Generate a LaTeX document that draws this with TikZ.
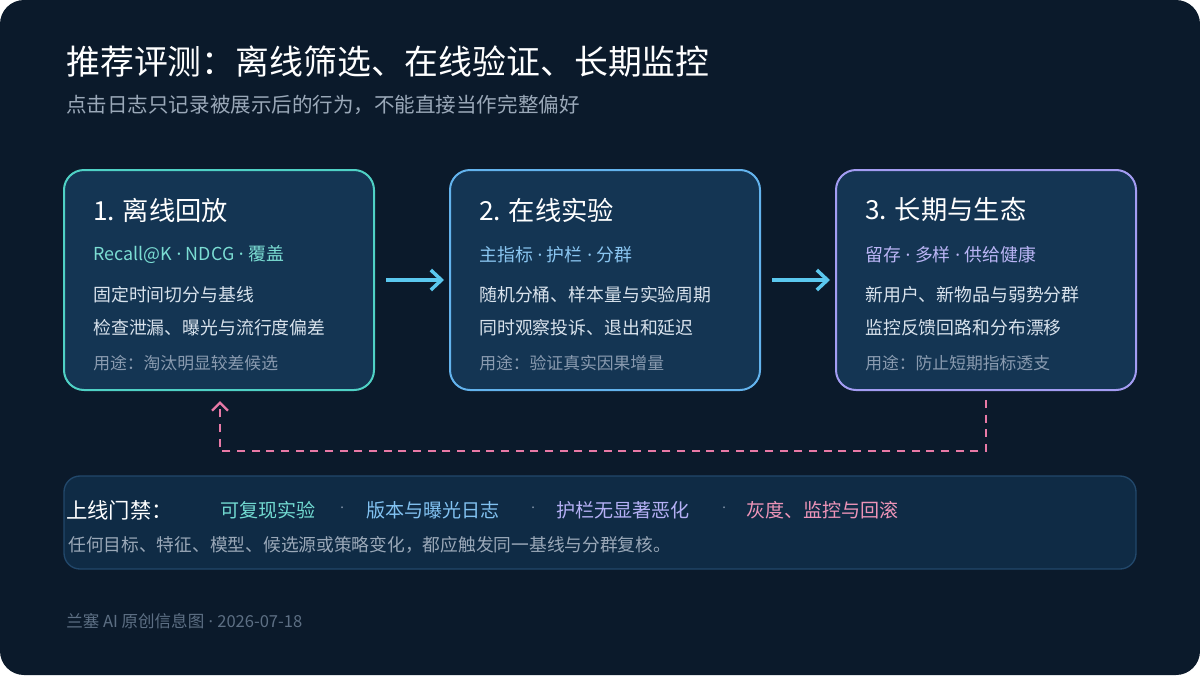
\documentclass[tikz,border=0pt]{standalone}
\usepackage{fontspec}
\setmainfont{Noto Sans CJK SC}
\newfontfamily\latinfont{Noto Sans}
\newcommand{\sep}{{\latinfont\ ·\ }}
\usetikzlibrary{arrows.meta}
\definecolor{bgdark}{HTML}{0B1A2B}
\definecolor{boxfill}{HTML}{143553}
\definecolor{gatefill}{HTML}{0F2B45}
\definecolor{gateline}{HTML}{22486B}
\definecolor{teal}{HTML}{4FD1C5}
\definecolor{sky}{HTML}{63B3ED}
\definecolor{violet}{HTML}{A39CF2}
\definecolor{pink}{HTML}{E879A6}
\definecolor{arrowblue}{HTML}{5BC8EF}
\definecolor{bodytext}{HTML}{D8E2EC}
\definecolor{usetext}{HTML}{8A9BB0}
\definecolor{subtext}{HTML}{9AA8B8}
\definecolor{foot}{HTML}{5D6F84}
\begin{document}
\begin{tikzpicture}[x=0.75pt, y=-0.75pt,
  txt/.style={anchor=west, inner sep=0pt},
  stage/.style={line width=1.5pt, fill=boxfill, rounded corners=15pt},
  head/.style={txt, text=white, font=\fontsize{19.7}{23}\selectfont},
  metric/.style={txt, font=\fontsize{13.4}{16}\selectfont},
  body/.style={txt, text=bodytext, font=\fontsize{13.4}{16}\selectfont},
  usage/.style={txt, text=usetext, font=\fontsize{12.6}{15}\selectfont},
  flow/.style={-{Straight Barb[length=8pt,width=15pt]}, arrowblue, line width=2.6pt}]
\fill[white] (0,0) rectangle (1200,675);
\fill[bgdark, rounded corners=18pt] (0,0) rectangle (1200,675);

% title
\node[txt, text=white, font=\fontsize{25.4}{30}\selectfont] (title) at (66,62) {推荐评测：离线筛选、在线验证、长期监控};
\node[txt, text=subtext, font=\fontsize{15.4}{18}\selectfont] (subtitle) at (66,105) {点击日志只记录被展示后的行为，不能直接当作完整偏好};

% stages
\draw[stage, draw=teal] (64,170) rectangle (374,390);
\node[head] (h1) at (93,210) {1. 离线回放};
\node[metric, text=teal!75!white] (m1) at (93,255) {Recall@K\sep NDCG\sep 覆盖};
\node[body] (b1a) at (93,295) {固定时间切分与基线};
\node[body] (b1b) at (93,328) {检查泄漏、曝光与流行度偏差};
\node[usage] (u1) at (93,363) {用途：淘汰明显较差候选};

\draw[stage, draw=sky] (450,170) rectangle (760,390);
\node[head] (h2) at (479,210) {2. 在线实验};
\node[metric, text=sky!75!white] (m2) at (479,255) {主指标\sep 护栏\sep 分群};
\node[body] (b2a) at (479,295) {随机分桶、样本量与实验周期};
\node[body] (b2b) at (479,328) {同时观察投诉、退出和延迟};
\node[usage] (u2) at (479,363) {用途：验证真实因果增量};

\draw[stage, draw=violet] (836,170) rectangle (1136,390);
\node[head] (h3) at (865,210) {3. 长期与生态};
\node[metric, text=violet!75!white] (m3) at (865,255) {留存\sep 多样\sep 供给健康};
\node[body] (b3a) at (865,295) {新用户、新物品与弱势分群};
\node[body] (b3b) at (865,328) {监控反馈回路和分布漂移};
\node[usage] (u3) at (865,363) {用途：防止短期指标透支};

\coordinate (s1e) at (386,280);
\coordinate (s2w) at (444,280);
\coordinate (s2e) at (772,280);
\coordinate (s3w) at (830,280);
\draw[flow] (s1e) -- (s2w);
\draw[flow] (s2e) -- (s3w);

% feedback loop
\coordinate (fbstart) at (986,400);
\coordinate (fbend) at (220,401);
\draw[pink, line width=1.8pt, dash pattern=on 6pt off 5pt, -{Straight Barb[length=6pt,width=12pt]}]
  (fbstart) -- (986,451) -- (220,451) -- (fbend);

% gate
\draw[fill=gatefill, draw=gateline, line width=1pt, rounded corners=12pt] (64,476) rectangle (1136,569);
\node[txt, text=white, font=\fontsize{16}{19}\selectfont] (gate) at (66,510) {上线门禁：};
\node[metric, text=teal!80!white, font=\fontsize{14.3}{17}\selectfont] (g1) at (220,510) {可复现实验};
\node[metric, text=usetext, font=\latinfont] at (340,510) {·};
\node[metric, text=sky!80!white, font=\fontsize{14.3}{17}\selectfont] (g2) at (366,510) {版本与曝光日志};
\node[metric, text=usetext, font=\latinfont] at (531,510) {·};
\node[metric, text=violet!80!white, font=\fontsize{14.3}{17}\selectfont] (g3) at (556,510) {护栏无显著恶化};
\node[metric, text=usetext, font=\latinfont] at (722,510) {·};
\node[metric, text=pink!80!white, font=\fontsize{14.3}{17}\selectfont] (g4) at (746,510) {灰度、监控与回滚};
\node[usage, text=subtext, font=\fontsize{13.3}{16}\selectfont] (gnote) at (68,545) {任何目标、特征、模型、候选源或策略变化，都应触发同一基线与分群复核。};

% footer
\node[usage, text=foot, font=\fontsize{12.4}{15}\selectfont] (footer) at (66,621) {兰塞 AI 原创信息图\sep 2026-07-18};
\end{tikzpicture}
\end{document}
